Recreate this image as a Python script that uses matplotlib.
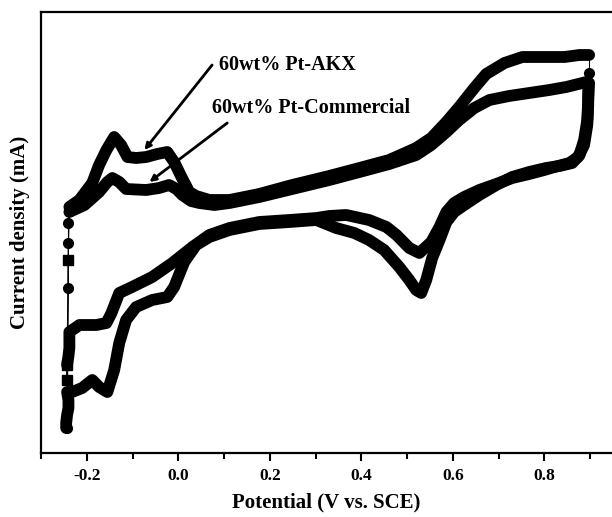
import matplotlib
matplotlib.use("Agg")
import matplotlib.pyplot as plt
from matplotlib.ticker import MultipleLocator, NullLocator

plt.rcParams['font.family'] = ['Liberation Serif', 'DejaVu Serif']
plt.rcParams['font.weight'] = 'bold'

# ---- 60wt% Pt-AKX (outer loop) ----
akx_anodic_v = [-0.238, -0.216, -0.188, -0.173, -0.157, -0.140, -0.125, -0.111, -0.092, -0.070,
                -0.046, -0.024, -0.009, 0.007, 0.024, 0.039, 0.068, 0.112, 0.177, 0.249,
                0.330, 0.396, 0.461, 0.520, 0.553, 0.586, 0.614, 0.647, 0.673, 0.713,
                0.752, 0.800, 0.844, 0.877, 0.898]
akx_anodic_j = [0.66, 0.80, 1.14, 1.50, 1.80, 2.06, 1.90, 1.66, 1.64, 1.66,
                1.72, 1.76, 1.56, 1.26, 0.96, 0.88, 0.80, 0.80, 0.92, 1.10,
                1.28, 1.44, 1.60, 1.84, 2.04, 2.36, 2.66, 3.04, 3.32, 3.54,
                3.66, 3.66, 3.66, 3.70, 3.70]
akx_cathodic_v = [0.898, 0.896, 0.894, 0.887, 0.877, 0.861, 0.833, 0.804, 0.767, 0.730,
                  0.695, 0.658, 0.625, 0.603, 0.586, 0.571, 0.555, 0.542, 0.531, 0.520,
                  0.505, 0.483, 0.450, 0.417, 0.385, 0.345, 0.302, 0.243, 0.177, 0.112,
                  0.068, 0.039, 0.013, -0.009, -0.024, -0.057, -0.092, -0.114, -0.129, -0.140,
                  -0.155, -0.173, -0.188, -0.210, -0.232, -0.243, -0.240, -0.240, -0.243, -0.245,
                  -0.245]
akx_cathodic_j = [3.14, 2.80, 2.40, 2.00, 1.70, 1.54, 1.48, 1.44, 1.36, 1.26,
                  1.10, 0.90, 0.70, 0.56, 0.36, 0.00, -0.36, -0.80, -1.06, -1.00,
                  -0.80, -0.54, -0.20, 0.00, 0.14, 0.24, 0.40, 0.36, 0.32, 0.20,
                  0.06, -0.10, -0.44, -0.94, -1.14, -1.20, -1.34, -1.60, -2.06, -2.60,
                  -3.04, -2.94, -2.80, -2.96, -3.04, -3.04, -3.20, -3.36, -3.50, -3.66,
                  -3.76]
akx_switch_v = [-0.243, -0.240, -0.240, -0.240]
akx_switch_j = [-3.76, -0.96, -0.06, 0.34]
akx_vertex_v = [0.898]
akx_vertex_j = [3.34]

# ---- 60wt% Pt-Commercial (inner loop) ----
com_anodic_v = [-0.238, -0.205, -0.173, -0.155, -0.144, -0.129, -0.114, -0.070, -0.042, -0.020,
                -0.004, 0.009, 0.028, 0.046, 0.079, 0.112, 0.177, 0.249, 0.330, 0.396,
                0.461, 0.520, 0.553, 0.586, 0.614, 0.647, 0.680, 0.723, 0.767, 0.811,
                0.848, 0.892]
com_anodic_j = [0.56, 0.70, 0.96, 1.16, 1.24, 1.16, 1.02, 1.00, 1.04, 1.10,
                1.02, 0.90, 0.78, 0.74, 0.70, 0.74, 0.86, 1.02, 1.20, 1.36,
                1.52, 1.70, 1.90, 2.16, 2.40, 2.64, 2.80, 2.88, 2.94, 3.00,
                3.06, 3.16]
com_cathodic_v = [0.896, 0.896, 0.894, 0.887, 0.874, 0.855, 0.822, 0.800, 0.767, 0.730,
                  0.695, 0.658, 0.625, 0.603, 0.586, 0.571, 0.553, 0.527, 0.505, 0.477,
                  0.455, 0.417, 0.367, 0.330, 0.302, 0.243, 0.177, 0.112, 0.068, 0.031,
                  -0.013, -0.057, -0.101, -0.129, -0.146, -0.157, -0.179, -0.216, -0.238, -0.238,
                  -0.238, -0.240, -0.243]
com_cathodic_j = [3.00, 2.70, 2.30, 1.90, 1.66, 1.54, 1.46, 1.40, 1.32, 1.24,
                  1.12, 1.00, 0.86, 0.74, 0.56, 0.26, -0.04, -0.26, -0.16, 0.10,
                  0.26, 0.40, 0.50, 0.48, 0.44, 0.40, 0.36, 0.24, 0.10, -0.14,
                  -0.46, -0.74, -0.94, -1.06, -1.46, -1.66, -1.70, -1.70, -1.84, -2.00,
                  -2.16, -2.32, -2.50]
com_switch_v = [-0.243, -0.243, -0.241]
com_switch_j = [-2.50, -2.80, -0.40]

xticks = [-0.2, 0.0, 0.2, 0.4, 0.6, 0.8]
xticklabels = ['-0.2', '0.0', '0.2', '0.4', '0.6', '0.8']
label_akx = '60wt% Pt-AKX'
label_com = '60wt% Pt-Commercial'

fig = plt.figure(figsize=(6.12, 5.17), dpi=100)
ax = fig.add_axes([41 / 612, 64 / 517, 1 - 41 / 612, (453 - 12) / 517])

BAND = 8.5
MS = 7

def draw(anv, anj, cav, caj, swv, swj, marker):
    ax.plot(anv, anj, '-', color='black', lw=BAND, solid_capstyle='round', solid_joinstyle='round')
    ax.plot(cav, caj, '-', color='black', lw=BAND, solid_capstyle='round', solid_joinstyle='round')
    # thin connection through the potential-switch points
    ax.plot([cav[-1]] + swv + [anv[0]], [caj[-1]] + swj + [anj[0]], '-', color='black', lw=0.8,
            marker=marker, ms=MS, markevery=list(range(1, len(swv) + 1)))

draw(akx_anodic_v, akx_anodic_j, akx_cathodic_v, akx_cathodic_j, akx_switch_v, akx_switch_j, 'o')
draw(com_anodic_v, com_anodic_j, com_cathodic_v, com_cathodic_j, com_switch_v, com_switch_j, 's')
# vertex at upper potential limit (AKX)
ax.plot([akx_anodic_v[-1]] + akx_vertex_v + [akx_cathodic_v[0]],
        [akx_anodic_j[-1]] + akx_vertex_j + [akx_cathodic_j[0]], '-', color='black', lw=0.8)
ax.plot(akx_vertex_v, akx_vertex_j, 'o', color='black', ms=MS)

ax.set_xlim(-0.3, 0.948)
ax.set_ylim(-4.26, 4.56)
ax.set_xticks(xticks)
ax.set_xticklabels(xticklabels)
ax.xaxis.set_minor_locator(MultipleLocator(0.1))
ax.yaxis.set_major_locator(NullLocator())
ax.tick_params(axis='x', which='major', direction='out', length=6, width=1.5, labelsize=12.5, pad=5)
ax.tick_params(axis='x', which='minor', direction='out', length=4, width=1.5)
for s in ['left', 'bottom', 'top']:
    ax.spines[s].set_linewidth(1.6)
ax.spines['right'].set_visible(False)
for t in ax.get_xticklabels():
    t.set_fontweight('bold')

ax.set_xlabel('Potential (V vs. SCE)', fontsize=15, fontweight='bold', labelpad=6)
ax.set_ylabel('Current density (mA)', fontsize=15, fontweight='bold', labelpad=8)

arrow_kw = dict(arrowstyle='-|>', color='black', lw=2, mutation_scale=9, shrinkA=0, shrinkB=0)
ax.annotate('', xy=(-0.074, 1.80), xytext=(0.074, 3.50), arrowprops=arrow_kw)
ax.annotate('', xy=(-0.063, 1.16), xytext=(0.107, 2.34), arrowprops=arrow_kw)
ax.text(0.090, 3.50, label_akx, fontsize=14.5, fontweight='bold', va='center', ha='left')
ax.text(0.074, 2.64, label_com, fontsize=14.5, fontweight='bold', va='center', ha='left')

fig.savefig('out.png', dpi=100)
